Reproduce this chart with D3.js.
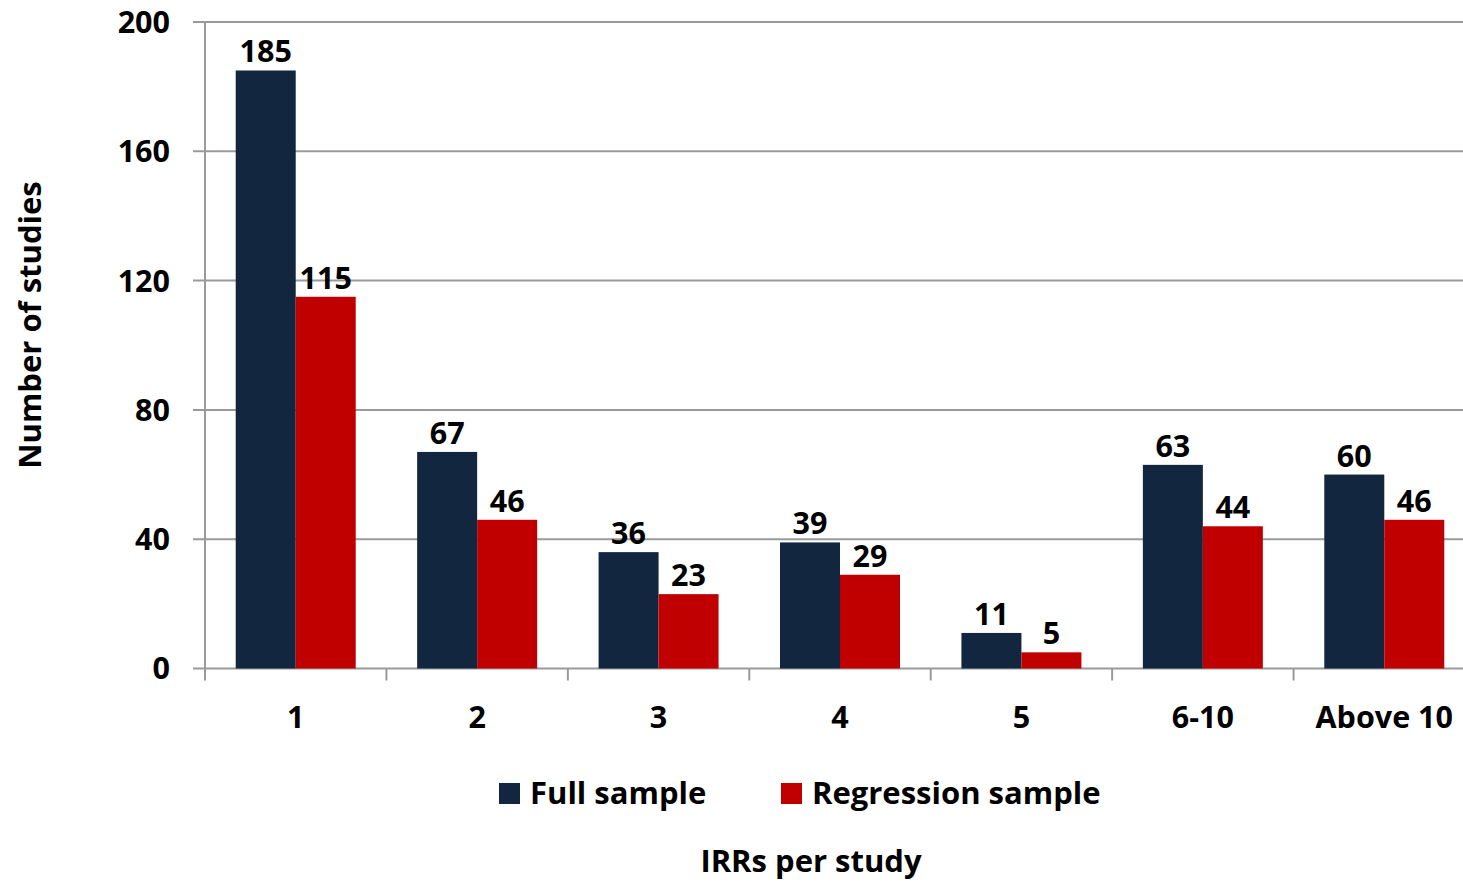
<!DOCTYPE html>
<html><head><meta charset="utf-8">
<script src="https://cdn.jsdelivr.net/npm/d3@7"></script>
<style>body{margin:0;background:#fff}svg{display:block;font-family:"Open Sans",Lato,sans-serif;font-weight:700}</style>
</head><body><svg id="c" width="1463" height="883"></svg>
<script>
const categories = ["1","2","3","4","5","6-10","Above 10"];
const fullSample = [185,67,36,39,11,63,60];
const regressionSample = [115,46,23,29,5,44,46];
const yTicks = [0,40,80,120,160,200];
const seriesNames = ["Full sample","Regression sample"];
const colors = ["#13263F","#C00000"];

const svg = d3.select("#c");
const x0 = 205, x1 = 1475, yTop = 22, yBot = 668.5;
const x = d3.scaleBand().domain(categories).range([x0,x1]).paddingInner(0).paddingOuter(0);
const xs = d3.scaleBand().domain([0,1]).range([0,x.bandwidth()]).paddingInner(0).paddingOuter(0.512);
const y = d3.scaleLinear().domain([0,200]).range([yBot,yTop]);
const grid = "#9a9a9a";
const fs = 30.5;

svg.append("g").selectAll("line").data(yTicks).join("line")
  .attr("x1",193).attr("x2",1463).attr("y1",d=>y(d)).attr("y2",d=>y(d))
  .attr("stroke",grid).attr("stroke-width",2);
svg.append("line").attr("x1",x0).attr("x2",x0).attr("y1",yTop).attr("y2",yBot+12).attr("stroke",grid).attr("stroke-width",2);
svg.append("g").selectAll("line").data(categories.slice(1)).join("line")
  .attr("x1",d=>x(d)).attr("x2",d=>x(d)).attr("y1",yBot).attr("y2",yBot+12)
  .attr("stroke",grid).attr("stroke-width",2);
svg.append("g").selectAll("text").data(yTicks).join("text")
  .attr("x",170).attr("y",d=>y(d)).attr("dy","0.36em").attr("text-anchor","end")
  .attr("font-size",fs).text(d=>d);

const data = categories.map((c,i)=>({c, vals:[fullSample[i],regressionSample[i]]}));
const g = svg.append("g").selectAll("g").data(data).join("g").attr("transform",d=>`translate(${x(d.c)},0)`);
g.selectAll("rect").data(d=>d.vals.map((v,k)=>({v,k}))).join("rect")
  .attr("x",d=>xs(d.k)).attr("width",xs.bandwidth()).attr("y",d=>y(d.v)).attr("height",d=>y(0)-y(d.v))
  .attr("fill",d=>colors[d.k]);
g.selectAll("text").data(d=>d.vals.map((v,k)=>({v,k}))).join("text")
  .attr("x",d=>xs(d.k)+xs.bandwidth()/2).attr("y",d=>y(d.v)-8).attr("text-anchor","middle")
  .attr("font-size",fs).text(d=>d.v);

svg.append("g").selectAll("text").data(categories).join("text")
  .attr("x",d=>x(d)+x.bandwidth()/2).attr("y",728).attr("text-anchor","middle")
  .attr("font-size",fs).text(d=>d);

const leg = [{x:499,tx:530},{x:781,tx:812}];
leg.forEach((l,i)=>{
  svg.append("rect").attr("x",l.x).attr("y",783).attr("width",21).attr("height",21).attr("fill",colors[i]);
  svg.append("text").attr("x",l.tx).attr("y",804).attr("font-size",31).text(seriesNames[i]);
});
svg.append("text").attr("x",811).attr("y",872).attr("text-anchor","middle").attr("font-size",31).text("IRRs per study");
svg.append("text").attr("transform","translate(41,325) rotate(-90)").attr("text-anchor","middle").attr("font-size",31).text("Number of studies");
</script></body></html>
